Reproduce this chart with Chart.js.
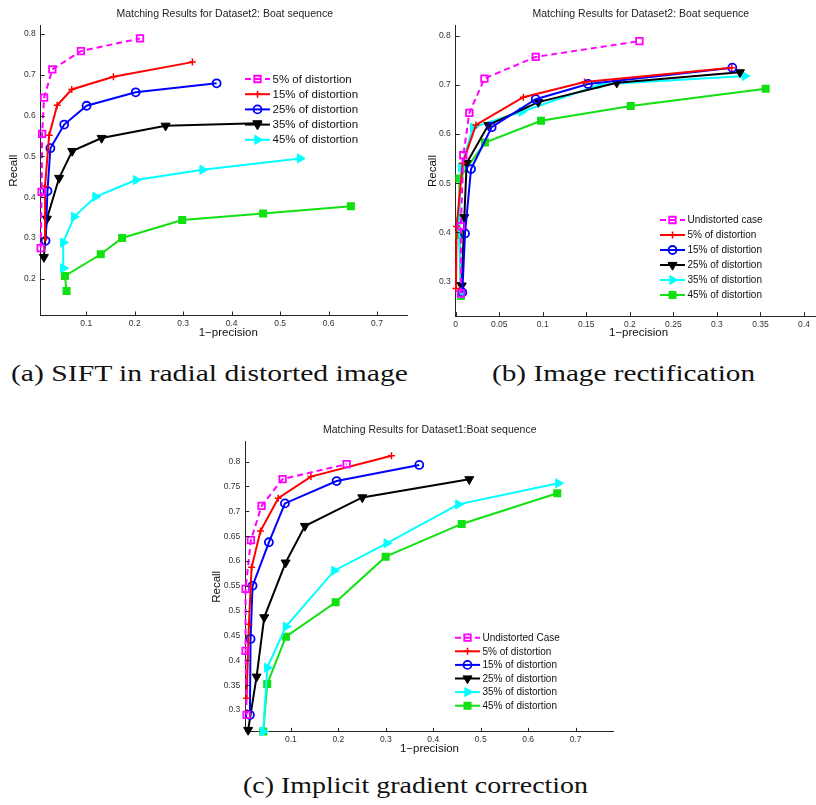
<!DOCTYPE html>
<html>
<head>
<meta charset="utf-8">
<script src="https://cdn.jsdelivr.net/npm/chart.js@4.4.0/dist/chart.umd.min.js"></script>
<style>
  html, body { margin: 0; padding: 0; background: #fff; width: 816px; height: 805px; overflow: hidden; position: relative; }
  .panel { position: absolute; overflow: hidden; }
  .panel canvas { position: absolute; left: 0; top: 0; }
  .cap { position: absolute; font-family: "Liberation Serif", "DejaVu Serif", serif; font-size: 23px; line-height: 23px;
         white-space: nowrap; transform-origin: 0 50%; color: #111; }
</style>
</head>
<body>
<div class="panel" style="left:0;top:0;width:408px;height:345px"><canvas id="chartA" width="430" height="345"></canvas></div>
<div class="panel" style="left:420px;top:0;width:396px;height:345px"><canvas id="chartB" width="410" height="345"></canvas></div>
<div class="panel" style="left:200px;top:400px;width:430px;height:362px"><canvas id="chartC" width="430" height="362"></canvas></div>

<div class="cap" id="capA" data-left="11" data-right="408" data-cy="373">(a) SIFT in radial distorted image</div>
<div class="cap" id="capB" data-left="492" data-right="755" data-cy="373">(b) Image rectification</div>
<div class="cap" id="capC" data-left="243" data-right="588" data-cy="785">(c) Implicit gradient correction</div>

<script>
// ---- (a) SIFT in radial distorted image ----
const aMagX = [0.006, 0.008, 0.009, 0.013, 0.030, 0.089, 0.211];
const aMagY = [0.275, 0.413, 0.555, 0.644, 0.713, 0.758, 0.789];
const aRedX = [0.015, 0.015, 0.0235, 0.040, 0.070, 0.156, 0.319];
const aRedY = [0.299, 0.427, 0.552, 0.625, 0.664, 0.695, 0.731];
const aBluX = [0.016, 0.020, 0.026, 0.0545, 0.1007, 0.202, 0.369];
const aBluY = [0.293, 0.415, 0.520, 0.578, 0.624, 0.657, 0.679];
const aBlkX = [0.0126, 0.0188, 0.044, 0.071, 0.1317, 0.2637, 0.453];
const aBlkY = [0.253, 0.347, 0.447, 0.513, 0.545, 0.575, 0.581];
const aCyaX = [0.0525, 0.0525, 0.075, 0.119, 0.2025, 0.340, 0.541];
const aCyaY = [0.226, 0.289, 0.352, 0.401, 0.442, 0.467, 0.495];
const aGrnX = [0.0594, 0.056, 0.130, 0.174, 0.298, 0.465, 0.646];
const aGrnY = [0.170, 0.207, 0.260, 0.300, 0.344, 0.360, 0.378];
const aLabels = ['5% of distortion', '15% of distortion', '25% of distortion', '35% of distortion', '45% of distortion', null];
const aXTicks = [0.1, 0.2, 0.3, 0.4, 0.5, 0.6, 0.7];
const aXTickLabels = ['0.1', '0.2', '0.3', '0.4', '0.5', '0.6', '0.7'];
const aYTicks = [0.2, 0.3, 0.4, 0.5, 0.6, 0.7, 0.8];
const aYTickLabels = ['0.2', '0.3', '0.4', '0.5', '0.6', '0.7', '0.8'];

// ---- (b) Image rectification ----
const bMagX = [0.006, 0.006, 0.0087, 0.0157, 0.033, 0.0919, 0.211];
const bMagY = [0.276, 0.413, 0.557, 0.643, 0.713, 0.757, 0.789];
const bRedX = [0.0003, 0.001, 0.008, 0.0233, 0.0777, 0.148, 0.317];
const bRedY = [0.286, 0.412, 0.541, 0.6185, 0.675, 0.706, 0.735];
const bBluX = [0.0076, 0.0107, 0.0176, 0.0413, 0.0919, 0.152, 0.3177];
const bBluY = [0.278, 0.398, 0.529, 0.614, 0.671, 0.702, 0.735];
const bBlkX = [0.0069, 0.0099, 0.0126, 0.0375, 0.0949, 0.185, 0.3265];
const bBlkY = [0.292, 0.431, 0.541, 0.6185, 0.665, 0.7045, 0.7256];
const bCyaX = [0.006, 0.0038, 0.006, 0.020, 0.0758, 0.166, 0.332];
const bCyaY = [0.275, 0.422, 0.5325, 0.614, 0.6455, 0.701, 0.718];
const bGrnX = [0.006, 0.0042, 0.0042, 0.0337, 0.098, 0.201, 0.356];
const bGrnY = [0.271, 0.395, 0.510, 0.583, 0.627, 0.657, 0.692];
const bLabels = ['Undistorted case', '5% of distortion', '15% of distortion', '25% of distortion', '35% of distortion', '45% of distortion'];
const bXTicks = [0, 0.05, 0.1, 0.15, 0.2, 0.25, 0.3, 0.35, 0.4];
const bXTickLabels = ['0', '0.05', '0.1', '0.15', '0.2', '0.25', '0.3', '0.35', '0.4'];
const bYTicks = [0.3, 0.4, 0.5, 0.6, 0.7, 0.8];
const bYTickLabels = ['0.3', '0.4', '0.5', '0.6', '0.7', '0.8'];

// ---- (c) Implicit gradient correction ----
const cMagX = [0.0067, 0.0046, 0.0046, 0.0158, 0.0383, 0.0826, 0.2175];
const cMagY = [0.290, 0.419, 0.544, 0.642, 0.711, 0.765, 0.795];
const cRedX = [0.0067, 0.0116, 0.0173, 0.036, 0.0734, 0.1423, 0.312];
const cRedY = [0.3235, 0.4725, 0.5873, 0.6604, 0.7263, 0.770, 0.812];
const cBluX = [0.0137, 0.0151, 0.0193, 0.0537, 0.0875, 0.1964, 0.3705];
const cBluY = [0.290, 0.443, 0.550, 0.6377, 0.716, 0.761, 0.7934];
const cBlkX = [0.010, 0.0278, 0.0439, 0.0889, 0.1296, 0.2505, 0.4759];
const cBlkY = [0.2597, 0.367, 0.4866, 0.5967, 0.6705, 0.728, 0.7645];
const cCyaX = [0.0418, 0.0502, 0.0896, 0.1914, 0.3018, 0.4527, 0.6635];
const cCyaY = [0.2565, 0.385, 0.468, 0.5805, 0.6357, 0.714, 0.7565];
const cGrnX = [0.0418, 0.0502, 0.0896, 0.1943, 0.2997, 0.4599, 0.6613];
const cGrnY = [0.2565, 0.3524, 0.4476, 0.5169, 0.6087, 0.6746, 0.7364];
const cLabels = ['Undistorted Case', '5% of distortion', '15% of distortion', '25% of distortion', '35% of distortion', '45% of distortion'];
const cXTicks = [0.1, 0.2, 0.3, 0.4, 0.5, 0.6, 0.7];
const cXTickLabels = ['0.1', '0.2', '0.3', '0.4', '0.5', '0.6', '0.7'];
const cYTicks = [0.3, 0.35, 0.4, 0.45, 0.5, 0.55, 0.6, 0.65, 0.7, 0.75, 0.8];
const cYTickLabels = ['0.3', '0.35', '0.4', '0.45', '0.5', '0.55', '0.6', '0.65', '0.7', '0.75', '0.8'];

// matlab-ish line styles, same order in every panel
const styles = [
  { color: '#ff00ff', dash: [6, 4], pointStyle: 'rect', radius: 4.6, rot: 0, fill: 'rgba(0,0,0,0)', pbw: 1.8 },
  { color: '#ff0000', dash: [], pointStyle: 'cross', radius: 3.5, rot: 0, fill: '#ff0000', pbw: 1.5 },
  { color: '#0000ff', dash: [], pointStyle: 'circle', radius: 4, rot: 0, fill: 'rgba(0,0,0,0)', pbw: 1.8 },
  { color: '#000000', dash: [], pointStyle: 'triangle', radius: 5.2, rot: 180, fill: '#000000', pbw: 1 },
  { color: '#00ffff', dash: [], pointStyle: 'triangle', radius: 5.2, rot: 90, fill: '#00ffff', pbw: 1 },
  { color: '#11e011', dash: [], pointStyle: 'rect', radius: 4.6, rot: 0, fill: '#11e011', pbw: 1.5 }
];

const FONT = '"Liberation Sans", Arial, Helvetica, sans-serif';

function pts(xs, ys) {
  return xs.map((x, i) => ({ x: x, y: ys[i] }));
}

function drawMarker(ctx, st, x, y) {
  const H = Chart.helpers;
  ctx.save();
  ctx.setLineDash([]);
  ctx.strokeStyle = st.color;
  ctx.fillStyle = st.fill;
  ctx.lineWidth = st.pbw;
  if (H && H.drawPoint) {
    H.drawPoint(ctx, { pointStyle: st.pointStyle, rotation: st.rot, radius: st.radius, borderWidth: st.pbw }, x, y);
  } else {
    ctx.beginPath();
    ctx.arc(x, y, st.radius, 0, Math.PI * 2);
    ctx.fill();
    ctx.stroke();
  }
  ctx.restore();
}

function makePanel(id, p) {
  const canvas = document.getElementById(id);
  const W = canvas.width, Hh = canvas.height;
  const datasets = p.series.map((s, i) => {
    const st = styles[i];
    return {
      label: p.labels[i] || '',
      data: pts(s[0], s[1]),
      showLine: true,
      borderColor: st.color,
      backgroundColor: st.color,
      borderWidth: 2,
      borderDash: st.dash,
      pointStyle: st.pointStyle,
      pointRotation: st.rot,
      pointRadius: st.radius,
      pointBorderWidth: st.pbw,
      pointBorderColor: st.color,
      pointBackgroundColor: st.fill,
      tension: 0,
      clip: false
    };
  });

  const axisCommon = (ticks, labels) => ({
    type: 'linear',
    grid: { display: false, drawTicks: false },
    border: { display: true, color: '#262626', width: 1 },
    afterBuildTicks: (scale) => { scale.ticks = ticks.map(v => ({ value: v })); },
    ticks: {
      autoSkip: false, maxRotation: 0, minRotation: 0,
      color: '#333', font: { family: FONT, size: 8.5 },
      callback: (v, i) => labels[i]
    }
  });

  const xAxis = Object.assign(axisCommon(p.xTicks, p.xTickLabels), {
    min: p.xRange[0], max: p.xRange[1],
    afterFit: (scale) => { scale.height = Hh - p.area.bottom; },
    title: { display: true, text: '1\u2212precision', color: '#111',
             font: { family: FONT, size: 11.5 }, padding: { top: 0, bottom: Hh - p.xTitleY - 6.9 } }
  });
  xAxis.ticks.padding = 3;

  const yAxis = Object.assign(axisCommon(p.yTicks, p.yTickLabels), {
    min: p.yRange[0], max: p.yRange[1],
    afterFit: (scale) => { scale.width = p.area.left; },
    title: { display: true, text: 'Recall', color: '#111',
             font: { family: FONT, size: 11.5 }, padding: { top: p.yTitleX - 6.9, bottom: 0 } }
  });
  yAxis.ticks.padding = 5;

  const extras = {
    id: 'extras',
    afterDraw(chart) {
      const ctx = chart.ctx;
      const xs = chart.scales.x, ys = chart.scales.y;
      const ca = chart.chartArea;
      // inward tick marks
      ctx.save();
      ctx.strokeStyle = '#262626';
      ctx.lineWidth = 1;
      ctx.beginPath();
      p.xTicks.forEach(v => {
        const px = Math.round(xs.getPixelForValue(v)) + 0.5;
        ctx.moveTo(px, ca.bottom); ctx.lineTo(px, ca.bottom - 4);
      });
      p.yTicks.forEach(v => {
        const py = Math.round(ys.getPixelForValue(v)) + 0.5;
        ctx.moveTo(ca.left, py); ctx.lineTo(ca.left + 4, py);
      });
      ctx.stroke();
      // plot title
      ctx.fillStyle = '#222';
      ctx.font = '10.5px ' + FONT;
      ctx.textAlign = 'center';
      ctx.textBaseline = 'middle';
      ctx.fillText(p.title, p.titlePos[0], p.titlePos[1]);
      // legend, no box
      const lg = p.legend;
      let row = 0;
      p.labels.forEach((lab, i) => {
        if (!lab) return;
        const st = styles[i];
        const y = lg.y + row * lg.step;
        ctx.save();
        ctx.strokeStyle = st.color;
        ctx.lineWidth = 2;
        ctx.setLineDash(st.dash);
        ctx.beginPath();
        ctx.moveTo(lg.x, y); ctx.lineTo(lg.x + 25, y);
        ctx.stroke();
        ctx.restore();
        drawMarker(ctx, st, lg.x + 12.5, y);
        ctx.fillStyle = '#111';
        ctx.font = lg.size + 'px ' + FONT;
        ctx.textAlign = 'left';
        ctx.textBaseline = 'middle';
        ctx.fillText(lab, lg.x + 27.5, y + 0.5);
        row++;
      });
      ctx.restore();
    }
  };

  return new Chart(canvas, {
    type: 'scatter',
    data: { datasets: datasets },
    options: {
      responsive: false,
      animation: false,
      devicePixelRatio: 1,
      layout: { padding: { left: 0, top: p.area.top, right: W - p.area.right, bottom: 0 } },
      plugins: { legend: { display: false }, title: { display: false }, tooltip: { enabled: false } },
      scales: { x: xAxis, y: yAxis }
    },
    plugins: [extras]
  });
}

makePanel('chartA', {
  series: [[aMagX, aMagY], [aRedX, aRedY], [aBluX, aBluY], [aBlkX, aBlkY], [aCyaX, aCyaY], [aGrnX, aGrnY]],
  labels: aLabels,
  xTicks: aXTicks, xTickLabels: aXTickLabels, yTicks: aYTicks, yTickLabels: aYTickLabels,
  xRange: [0.006, 0.78], yRange: [0.11, 0.82],
  area: { left: 40.7, top: 25.8, right: 415.8, bottom: 315.5 },
  title: 'Matching Results for Dataset2: Boat sequence', titlePos: [224.7, 14],
  xTitleY: 333, yTitleX: 14,
  legend: { x: 245, y: 79, step: 15.2, size: 11.5 }
});

makePanel('chartB', {
  series: [[bMagX, bMagY], [bRedX, bRedY], [bBluX, bBluY], [bBlkX, bBlkY], [bCyaX, bCyaY], [bGrnX, bGrnY]],
  labels: bLabels,
  xTicks: bXTicks, xTickLabels: bXTickLabels, yTicks: bYTicks, yTickLabels: bYTickLabels,
  xRange: [0, 0.42], yRange: [0.23, 0.82],
  area: { left: 35.7, top: 25.9, right: 401.4, bottom: 316.1 },
  title: 'Matching Results for Dataset2: Boat sequence', titlePos: [220.8, 14],
  xTitleY: 333, yTitleX: 12.7,
  legend: { x: 240, y: 220, step: 15, size: 10 }
});

makePanel('chartC', {
  series: [[cMagX, cMagY], [cRedX, cRedY], [cBluX, cBluY], [cBlkX, cBlkY], [cCyaX, cCyaY], [cGrnX, cGrnY]],
  labels: cLabels,
  xTicks: cXTicks, xTickLabels: cXTickLabels, yTicks: cYTicks, yTickLabels: cYTickLabels,
  xRange: [0.004, 0.78], yRange: [0.256, 0.84],
  area: { left: 45.3, top: 41.8, right: 413.6, bottom: 331.85 },
  title: 'Matching Results for Dataset1:Boat sequence', titlePos: [229.7, 30],
  xTitleY: 349, yTitleX: 16.7,
  legend: { x: 255, y: 237.7, step: 13.6, size: 10 }
});

// captions: stretch to the measured span of the original
document.querySelectorAll('.cap').forEach(el => {
  const l = +el.dataset.left, r = +el.dataset.right, cy = +el.dataset.cy;
  el.style.left = l + 'px';
  el.style.top = (cy - 11.5) + 'px';
  const w = el.getBoundingClientRect().width;
  el.style.transform = 'scaleX(' + ((r - l) / w).toFixed(4) + ')';
});
</script>
</body>
</html>
